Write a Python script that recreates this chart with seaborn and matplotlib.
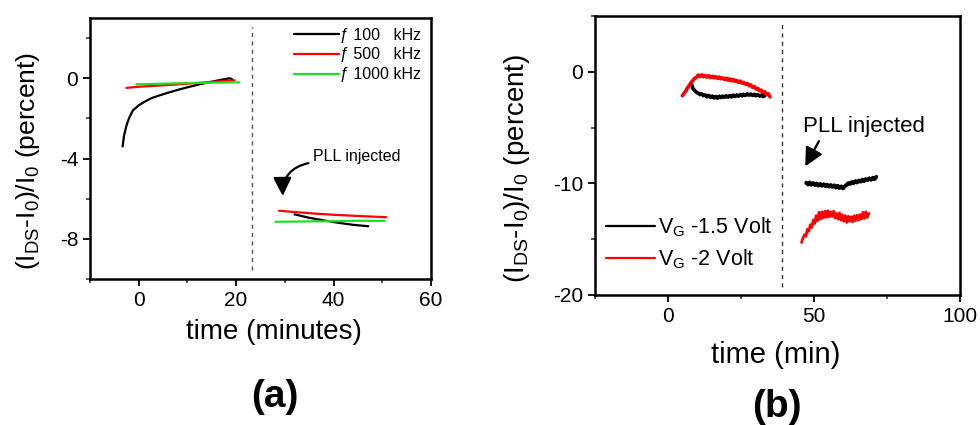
import matplotlib
matplotlib.use("Agg")
import matplotlib.pyplot as plt
from matplotlib.ticker import MultipleLocator
import seaborn as sns

# ---- panel (a) data: frequency series, before / after PLL injection ----
a_t_100_pre = [-3.3, -3.0, -2.5, -2.0, -1.2, 0.0, 1.0, 2.5, 4.3, 6.0, 8.0, 10.0, 12.5, 15.0, 17.0, 18.7, 19.2]
a_y_100_pre = [-3.4, -2.85, -2.35, -2.0, -1.6, -1.35, -1.2, -1.0, -0.85, -0.72, -0.58, -0.45, -0.3, -0.17, -0.07, 0.0, -0.05]
a_t_500_pre = [-2.5, 0.0, 5.0, 10.0, 15.0, 19.7]
a_y_500_pre = [-0.48, -0.42, -0.35, -0.27, -0.18, -0.1]
a_t_1000_pre = [-0.5, 5.0, 10.0, 15.0, 20.7]
a_y_1000_pre = [-0.3, -0.27, -0.24, -0.22, -0.2]

a_t_100_post = [32.0, 35.0, 38.0, 41.0, 44.0, 47.1]
a_y_100_post = [-6.78, -6.95, -7.08, -7.2, -7.3, -7.37]
a_t_500_post = [28.8, 35.0, 40.0, 45.0, 50.8]
a_y_500_post = [-6.6, -6.72, -6.8, -6.86, -6.92]
a_t_1000_post = [28.1, 35.0, 40.0, 45.0, 50.5]
a_y_1000_post = [-7.15, -7.13, -7.12, -7.1, -7.1]

a_labels = ["\u0192 100   kHz", "\u0192 500   kHz", "\u0192 1000 kHz"]

# ---- panel (b) data: gate-voltage series ----
b_t_15_pre = [8.0, 8.6, 9.2, 9.8, 10.4, 11.0, 11.6, 12.2, 12.8, 13.4, 14.0, 14.6, 15.2, 15.8,
              16.4, 17.0, 17.6, 18.2, 18.8, 19.4, 20.0, 20.6, 21.2, 21.8, 22.4, 23.0, 23.6,
              24.2, 24.8, 25.4, 26.0, 26.6, 27.2, 27.8, 28.4, 29.0, 29.6, 30.2, 30.8, 31.4,
              32.0, 32.6, 33.2]
b_y_15_pre = [-1.05, -1.50, -1.68, -1.85, -1.92, -2.05, -1.98, -2.15, -2.08, -2.25, -2.12, -2.30,
              -2.18, -2.35, -2.22, -2.38, -2.20, -2.32, -2.18, -2.30, -2.15, -2.28, -2.14, -2.26,
              -2.10, -2.22, -2.08, -2.20, -2.05, -2.16, -2.02, -2.12, -1.98, -2.10, -2.00, -2.12,
              -2.02, -2.15, -2.05, -2.18, -2.10, -2.22, -2.15]
b_t_2_pre = [5.0, 5.6, 6.2, 6.8, 7.4, 8.0, 8.6, 9.2, 9.8, 10.4, 11.0, 11.6, 12.2, 12.8, 13.4,
             14.0, 14.6, 15.2, 15.8, 16.4, 17.0, 17.6, 18.2, 18.8, 19.4, 20.0, 20.6, 21.2, 21.8,
             22.4, 23.0, 23.6, 24.2, 24.8, 25.4, 26.0, 26.6, 27.2, 27.8, 28.4, 29.0, 29.6, 30.2,
             30.8, 31.4, 32.0, 32.6, 33.2, 33.8, 34.4, 35.0]
b_y_2_pre = [-2.15, -1.90, -1.72, -1.40, -1.22, -0.95, -0.78, -0.58, -0.52, -0.30, -0.42, -0.28,
             -0.45, -0.33, -0.48, -0.36, -0.52, -0.40, -0.55, -0.44, -0.60, -0.48, -0.62, -0.55,
             -0.70, -0.58, -0.76, -0.64, -0.82, -0.70, -0.86, -0.78, -0.95, -0.84, -1.02, -0.96,
             -1.12, -1.05, -1.25, -1.18, -1.40, -1.32, -1.55, -1.48, -1.70, -1.65, -1.88, -1.80,
             -2.05, -1.98, -2.25]

b_t_15_post = [47.4, 48.0, 48.6, 49.2, 49.8, 50.4, 51.0, 51.6, 52.2, 52.8, 53.4, 54.0, 54.6, 55.2,
               55.8, 56.4, 57.0, 57.6, 58.2, 58.8, 59.4, 60.0, 60.6, 61.2, 61.8, 62.4, 63.0, 63.6,
               64.2, 64.8, 65.4, 66.0, 66.6, 67.2, 67.8, 68.4, 69.0, 69.6, 70.2, 70.8, 71.4]
b_y_15_post = [-9.95, -10.10, -9.92, -10.12, -9.98, -10.15, -10.02, -10.20, -10.05, -10.22, -10.08,
               -10.25, -10.12, -10.30, -10.15, -10.32, -10.18, -10.38, -10.22, -10.42, -10.28,
               -10.45, -10.25, -10.15, -9.98, -10.05, -9.88, -9.98, -9.80, -9.92, -9.75, -9.85,
               -9.68, -9.80, -9.62, -9.72, -9.55, -9.68, -9.50, -9.62, -9.42]
b_t_2_post = [45.8, 46.3, 46.8, 47.3, 47.8, 48.3, 48.8, 49.3, 49.8, 50.3, 50.8, 51.3, 51.8, 52.3,
              52.8, 53.3, 53.8, 54.3, 54.8, 55.3, 55.8, 56.3, 56.8, 57.3, 57.8, 58.3, 58.8, 59.3,
              59.8, 60.3, 60.8, 61.3, 61.8, 62.3, 62.8, 63.3, 63.8, 64.3, 64.8, 65.3, 65.8, 66.3,
              66.8, 67.3, 67.8, 68.3, 68.8]
b_y_2_post = [-15.30, -14.90, -14.60, -14.75, -14.10, -14.30, -13.70, -13.95, -13.30, -13.60, -12.90,
              -13.35, -12.60, -13.20, -12.55, -13.10, -12.50, -13.05, -12.45, -13.00, -12.55, -12.95,
              -12.50, -13.10, -12.70, -13.20, -12.65, -13.30, -12.80, -13.40, -12.90, -13.50, -12.95,
              -13.40, -13.00, -13.45, -12.90, -13.35, -12.85, -13.30, -12.80, -13.20, -12.60, -13.15,
              -12.55, -13.05, -12.70]

b_labels = ["V$_\\mathregular{G}$ -1.5 Volt", "V$_\\mathregular{G}$ -2 Volt"]

sns.set_style("ticks")
plt.rcParams["font.family"] = ["Liberation Sans", "DejaVu Sans"]
plt.rcParams["mathtext.fontset"] = "custom"
plt.rcParams["mathtext.rm"] = "Liberation Sans"
plt.rcParams["mathtext.it"] = "Liberation Sans:italic"
plt.rcParams["axes.unicode_minus"] = False
plt.rcParams["axes.linewidth"] = 1.8
plt.rcParams["text.color"] = "black"
plt.rcParams["axes.labelcolor"] = "black"
plt.rcParams["xtick.direction"] = "out"
plt.rcParams["ytick.direction"] = "out"

ylabel = "(I$_\\mathregular{DS}$-I$_\\mathregular{0}$)/I$_\\mathregular{0}$ (percent)"

fig = plt.figure(figsize=(9.8, 4.25), dpi=100)
ax_a = fig.add_axes([0.0918, 0.3435, 0.348, 0.614])
ax_b = fig.add_axes([0.607, 0.306, 0.3724, 0.6565])

# ---- panel (a) ----
colors_a = ["black", "red", "#22dd22"]
pre = [(a_t_100_pre, a_y_100_pre), (a_t_500_pre, a_y_500_pre), (a_t_1000_pre, a_y_1000_pre)]
post = [(a_t_100_post, a_y_100_post), (a_t_500_post, a_y_500_post), (a_t_1000_post, a_y_1000_post)]
for (t, y), c, lab in zip(pre, colors_a, a_labels):
    sns.lineplot(x=t, y=y, color=c, lw=1.6, sort=False, estimator=None, label=lab, ax=ax_a)
for (t, y), c in zip(post, colors_a):
    sns.lineplot(x=t, y=y, color=c, lw=1.6, sort=False, estimator=None, ax=ax_a)

ax_a.axvline(23.2, ymin=0.035, ymax=0.965, color="#555555", ls=(0, (3, 3)), lw=1)
ax_a.set_xlim(-10, 60)
ax_a.set_ylim(-10, 3)
ax_a.xaxis.set_major_locator(MultipleLocator(20))
ax_a.xaxis.set_minor_locator(MultipleLocator(10))
ax_a.yaxis.set_major_locator(MultipleLocator(4))
ax_a.yaxis.set_minor_locator(MultipleLocator(2))
ax_a.set_xlabel("time (minutes)", fontsize=20, va="center")
ax_a.set_ylabel(ylabel, fontsize=19, va="center")
ax_a.xaxis.set_label_coords(0.54, -0.203)
ax_a.yaxis.set_label_coords(-0.182, 0.452)

ax_a.text(35.7, -3.9, "PLL injected", fontsize=11.5, ha="left", va="center")
ax_a.annotate("", xy=(29.6, -6.0), xytext=(35.4, -4.2),
              arrowprops=dict(arrowstyle="-|>", connectionstyle="arc3,rad=0.45",
                              color="black", lw=1.6, mutation_scale=28))
ax_a.legend(loc="upper right", frameon=False, fontsize=11.5, handlelength=2.8,
            handletextpad=0.1, labelspacing=0.3, borderaxespad=0.2)

# ---- panel (b) ----
sns.lineplot(x=b_t_15_pre, y=b_y_15_pre, color="black", lw=2.6, sort=False, estimator=None,
             label=b_labels[0], ax=ax_b)
sns.lineplot(x=b_t_2_pre, y=b_y_2_pre, color="red", lw=2.6, sort=False, estimator=None,
             label=b_labels[1], ax=ax_b)
sns.lineplot(x=b_t_15_post, y=b_y_15_post, color="black", lw=2.8, sort=False, estimator=None, ax=ax_b)
sns.lineplot(x=b_t_2_post, y=b_y_2_post, color="red", lw=2.0, sort=False, estimator=None, ax=ax_b)

ax_b.axvline(39, ymin=0.03, ymax=0.97, color="#333333", ls=(0, (3, 3)), lw=1)
ax_b.set_xlim(-25, 100)
ax_b.set_ylim(-20, 5)
ax_b.xaxis.set_major_locator(MultipleLocator(50))
ax_b.xaxis.set_minor_locator(MultipleLocator(25))
ax_b.yaxis.set_major_locator(MultipleLocator(10))
ax_b.yaxis.set_minor_locator(MultipleLocator(5))
ax_b.set_xlabel("time (min)", fontsize=21, va="center")
ax_b.set_ylabel(ylabel, fontsize=20, va="center")
ax_b.xaxis.set_label_coords(0.496, -0.215)
ax_b.yaxis.set_label_coords(-0.214, 0.455)

ax_b.text(46.2, -4.9, "PLL injected", fontsize=16, ha="left", va="center")
ax_b.annotate("", xy=(46.6, -8.7), xytext=(52.2, -6.0),
              arrowprops=dict(arrowstyle="-|>", color="black", lw=1.6, mutation_scale=28))
leg_b = ax_b.legend(loc="lower left", bbox_to_anchor=(0.007, 0.055), frameon=False,
                    fontsize=15.5, handlelength=2.28, handletextpad=0.15,
                    labelspacing=0.38, borderaxespad=0.0)
for h in leg_b.legend_handles:
    h.set_linewidth(1.6)

for ax in (ax_a, ax_b):
    ax.tick_params(which="major", length=5, width=1.3, labelsize=15, colors="black")
    ax.tick_params(which="minor", length=3, width=1.1)
    for s in ax.spines.values():
        s.set_visible(True)
        s.set_color("black")

fig.text(0.28, 0.066, "(a)", fontsize=28, fontweight="bold", ha="center", va="center")
fig.text(0.793, 0.042, "(b)", fontsize=28, fontweight="bold", ha="center", va="center")

fig.savefig("out.png", dpi=100)
